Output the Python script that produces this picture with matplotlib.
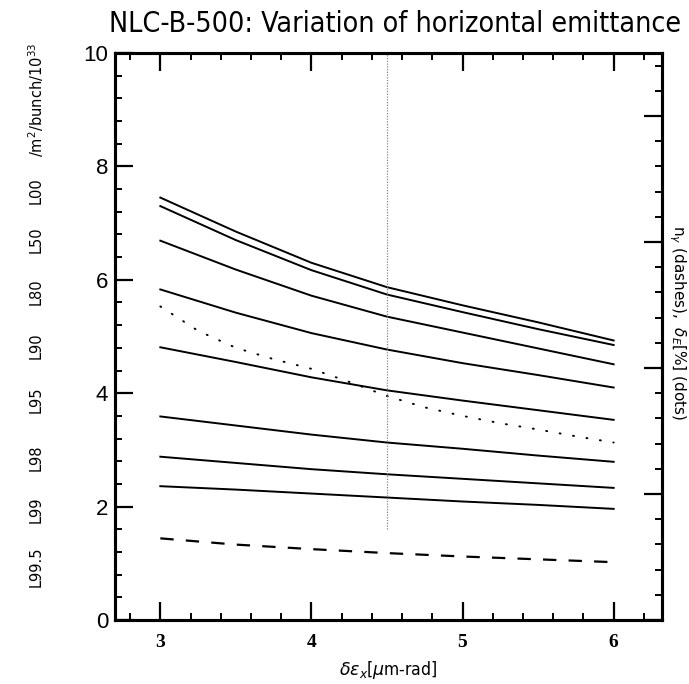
import matplotlib
matplotlib.use("Agg")
import matplotlib.pyplot as plt
from matplotlib.ticker import MultipleLocator, NullFormatter

my_dpi = 100

# horizontal emittance [um-rad]
emit = [3.0, 3.5, 4.0, 4.5, 5.0, 5.5, 6.0]

# luminosity curves (L99.5 ... L00), bottom to top
lum_curves = [
    [2.36, 2.30, 2.23, 2.16, 2.09, 2.03, 1.96],
    [2.88, 2.77, 2.66, 2.57, 2.49, 2.41, 2.33],
    [3.59, 3.43, 3.27, 3.13, 3.02, 2.90, 2.79],
    [4.81, 4.55, 4.28, 4.05, 3.87, 3.70, 3.53],
    [5.83, 5.42, 5.06, 4.77, 4.53, 4.32, 4.10],
    [6.69, 6.18, 5.72, 5.35, 5.07, 4.79, 4.51],
    [7.30, 6.70, 6.17, 5.74, 5.43, 5.13, 4.85],
    [7.45, 6.85, 6.30, 5.87, 5.55, 5.25, 4.93],
]

# n_gamma (dashes)
n_gamma = [1.44, 1.33, 1.25, 1.18, 1.12, 1.07, 1.02]

# delta_E [%] (dots)
emit_fine = [3.0, 3.25, 3.5, 3.75, 4.0, 4.25, 4.5, 4.75, 5.0, 5.25, 5.5, 5.75, 6.0]
delta_e = [5.53, 5.10, 4.80, 4.60, 4.43, 4.20, 3.95, 3.75, 3.60, 3.47, 3.36, 3.24, 3.13]

cut_x = 4.5
cut_ymin = 1.6

left_labels = ["L99.5", "L99", "L98", "L95", "L90", "L80", "L50", "L00"]
left_label_ypix = [567, 510, 458, 400, 346, 292, 240, 191]

fig = plt.figure(figsize=(689 / my_dpi, 684 / my_dpi), dpi=my_dpi)
ax = fig.add_axes([115 / 689, 1 - 620 / 684, (662 - 115) / 689, (620 - 53) / 684])

for ys in lum_curves:
    ax.plot(emit, ys, color="black", lw=1.4)
ax.plot(emit, n_gamma, color="black", lw=1.6, linestyle=(0, (6.0, 5.5)))
ax.plot(emit_fine, delta_e, color="black", lw=1.4, linestyle=(0, (0.5, 6.5)),
        dash_capstyle="round")
ax.plot([cut_x, cut_x], [cut_ymin, 10], color="#888888", lw=0.9, linestyle=(0, (1, 1.2)))

ax.set_xlim(2.7, 6.32)
ax.set_ylim(0, 10)
ax.xaxis.set_major_locator(MultipleLocator(1))
ax.xaxis.set_minor_locator(MultipleLocator(0.2))
ax.yaxis.set_major_locator(MultipleLocator(2))
ax.yaxis.set_minor_locator(MultipleLocator(0.4))
ax.tick_params(axis="x", which="both", direction="in", top=True, bottom=True, pad=10)
ax.tick_params(axis="y", which="both", direction="in", left=True, right=False, pad=5)
ax.tick_params(which="major", length=13, width=1.6)
ax.tick_params(which="minor", length=5, width=1.4)
for lab in ax.get_xticklabels():
    lab.set_fontfamily(["Liberation Serif", "DejaVu Serif"])
    lab.set_fontweight("bold")
    lab.set_fontsize(14)
for lab in ax.get_yticklabels():
    lab.set_fontfamily(["Liberation Sans", "DejaVu Sans"])
    lab.set_fontsize(16)
for sp in ax.spines.values():
    sp.set_linewidth(2.2)

# right-hand scale, ticks only
ax2 = ax.twinx()
ax2.set_ylim(0, 4.5)
ax2.yaxis.set_major_locator(MultipleLocator(1))
ax2.yaxis.set_minor_locator(MultipleLocator(0.2))
ax2.yaxis.set_major_formatter(NullFormatter())
ax2.tick_params(axis="y", which="both", direction="in", right=True, left=False)
ax2.tick_params(which="major", length=13, width=1.6)
ax2.tick_params(which="minor", length=5, width=1.4)
for sp in ax2.spines.values():
    sp.set_linewidth(2.2)

ax.set_xlabel(r"$\delta\epsilon_x$[$\mu$m-rad]", fontsize=12.5, fontstretch="condensed",
              labelpad=6)

fig.text(0.573, 1 - 24 / 684, "NLC-B-500: Variation of horizontal emittance",
         fontsize=20.5, fontstretch="condensed", ha="center", va="center")

for lab, yp in zip(left_labels, left_label_ypix):
    fig.text(36 / 689, 1 - yp / 684, lab, rotation=90, ha="center", va="center",
             fontsize=10.5)
fig.text(36 / 689, 1 - 100 / 684, r"/m$^2$/bunch/10$^{33}$", rotation=90,
         ha="center", va="center", fontsize=10.5)

fig.text(677 / 689, 1 - 323 / 684, r"n$_\gamma$ (dashes),  $\delta_E$[%] (dots)",
         rotation=-90, ha="center", va="center", fontsize=11)

fig.savefig("out.png", dpi=my_dpi)
